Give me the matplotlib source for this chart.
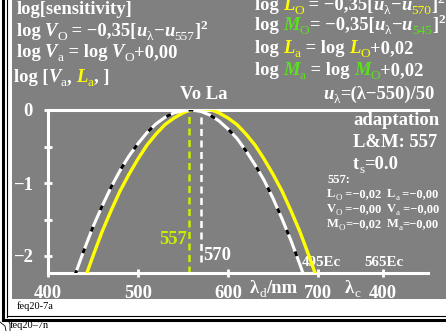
import matplotlib
matplotlib.use("Agg")
import matplotlib.pyplot as plt

# --- data ---
lam_v = [430, 440, 450, 460, 470, 480, 490, 500, 510, 520, 530, 540, 550, 557,
         560, 570, 580, 590, 600, 610, 620, 630, 640, 650, 660, 670, 680, 684]
log_va = [-2.26, -1.92, -1.60, -1.32, -1.06, -0.83, -0.63, -0.46, -0.31, -0.19, -0.10, -0.04, -0.01, 0.0,
          0.0, -0.02, -0.07, -0.15, -0.26, -0.39, -0.56, -0.75, -0.96, -1.21, -1.49, -1.79, -2.12, -2.26]
lam_l = [443, 450, 460, 470, 480, 490, 500, 510, 520, 530, 540, 550, 560, 570,
         580, 590, 600, 610, 620, 630, 640, 650, 660, 670, 680, 690, 697]
log_la = [-2.24, -2.00, -1.67, -1.38, -1.11, -0.88, -0.67, -0.48, -0.33, -0.20, -0.11, -0.04, 0.01, 0.02,
          0.01, -0.04, -0.11, -0.20, -0.33, -0.48, -0.67, -0.88, -1.11, -1.38, -1.67, -2.00, -2.24]
adapt_lam = 557
peak_l = 570
xticks = [400, 500, 600, 700, 772]
xticklabels = ["400", "500", "600", "700", "400"]
yticks = [0, -0.5, -1, -1.5, -2]
yticklabels = ["0", "", "\u22121", "", "\u22122"]

GRAY = "#808080"
YEL = "#ffff00"
GRN = "#5ce01e"
YG = "#c8f000"
W = "white"
SERIF = "Liberation Serif"

fig = plt.figure(figsize=(4.46, 3.31), dpi=100)
fig.patch.set_facecolor("white")

# background / decoration layer in pixel coordinates
bg = fig.add_axes([0, 0, 1, 1], zorder=0)
bg.set_xlim(0, 446)
bg.set_ylim(331, 0)
bg.axis("off")
bg.add_patch(plt.Rectangle((12, 0), 434, 299, color=GRAY, lw=0))
bg.plot([3, 3], [0, 319], color="black", lw=2.2)
bg.plot([7, 7], [0, 317], color="black", lw=0.8)
bg.plot([3, 446], [319.5, 319.5], color="black", lw=2.2)
bg.plot([7, 446], [316, 316], color="black", lw=0.8)
bg.plot([0, 5, 6], [322, 326, 331], color="black", lw=0.6)
bg.plot([8, 10, 10], [320, 324, 331], color="black", lw=0.6)

renderer = fig.canvas.get_renderer()


def row(x, y, parts, size=13.4):
    for txt, col, st in parts:
        fs, dy, weight, style = size, 0, "bold", "normal"
        if "i" in st:
            style = "italic"
        if "s" in st:
            fs, dy, weight = size * 0.72, size * 0.32, "normal"
        if "p" in st:
            fs, dy = size * 0.72, -size * 0.55
        t = bg.text(x, y + dy, txt, color=col, fontsize=fs, fontweight=weight,
                    fontstyle=style, family=SERIF, va="baseline", ha="left")
        x += t.get_window_extent(renderer).width


M = "\u2212"
row(17, 14, [("log[sensitivity]", W, "")])
row(17, 36, [("log ", W, ""), ("V", W, "i"), ("O", W, "s"), (" = " + M + "0,35[", W, ""),
             ("u", W, "i"), ("\u03bb", W, "s"), (M, W, ""), ("u", W, "i"), ("557", W, "s"),
             ("]", W, ""), ("2", W, "p")])
row(17, 57, [("log ", W, ""), ("V", W, "i"), ("a", W, "s"), (" = log ", W, ""), ("V", W, "i"),
             ("O", W, "s"), ("+0,00", W, "")])
row(14, 82, [("log [", W, ""), ("V", W, "i"), ("a", W, "s"), (", ", W, ""), ("L", YEL, "i"),
             ("a", YEL, "s"), (", ]", W, "")])
row(180, 99, [("Vo La", W, "")])

row(255, 10, [("log ", W, ""), ("L", YEL, "i"), ("O", YEL, "s"), (" = " + M + "0,35[", W, ""),
              ("u", W, "i"), ("\u03bb", W, "s"), (M, W, ""), ("u", W, "i"), ("570", YEL, "s"),
              ("]", W, ""), ("2", W, "p")])
row(255, 30, [("log ", W, ""), ("M", GRN, "i"), ("O", GRN, "s"), ("= " + M + "0,35[", W, ""),
              ("u", W, "i"), ("\u03bb", W, "s"), (M, W, ""), ("u", W, "i"), ("545", GRN, "s"),
              ("]", W, ""), ("2", W, "p")])
row(255, 53, [("log ", W, ""), ("L", YEL, "i"), ("a", YEL, "s"), (" = log ", W, ""),
              ("L", YEL, "i"), ("O", YEL, "s"), ("+0,02", W, "")])
row(255, 75, [("log ", W, ""), ("M", GRN, "i"), ("a", GRN, "s"), (" = log ", W, ""),
              ("M", GRN, "i"), ("O", GRN, "s"), ("+0,02", W, "")])
row(323, 99, [("u", W, "i"), ("\u03bb", W, "s"), ("=(\u03bb" + M + "550)/50", W, "")])

row(353, 125, [("adaptation", W, "")])
row(353, 147, [("L&M: 557", W, "")])
row(353, 169, [("t", W, ""), ("s", W, "s"), ("=0.0", W, "")])
row(327, 183, [("557:", W, "")], size=9)
row(327, 197, [("L", W, ""), ("O", W, "s"), (" =" + M + "0,02", W, "")], size=9)
row(387, 197, [("L", W, ""), ("a", W, "s"), (" =" + M + "0,00", W, "")], size=9)
row(327, 212, [("V", W, ""), ("O", W, "s"), (" =" + M + "0,00", W, "")], size=9)
row(387, 212, [("V", W, ""), ("a", W, "s"), (" =" + M + "0,00", W, "")], size=9)
row(327, 227, [("M", W, ""), ("O", W, "s"), ("=" + M + "0,02", W, "")], size=9)
row(387, 227, [("M", W, ""), ("a", W, "s"), ("=" + M + "0,00", W, "")], size=9)

row(302, 266, [("495Ec", W, "")], size=10.8)
row(364, 266, [("565Ec", W, "")], size=10.8)
row(250, 293, [("\u03bb", W, ""), ("d", W, "s"), ("/nm", W, "")], size=13.4)
row(345, 293, [("\u03bb", W, ""), ("c", W, "s")], size=13.4)

bg.text(17, 309, "feq20-7a", fontsize=7.5, family=SERIF, color="black", va="baseline")
bg.text(10, 328, "feq20\u20137n", fontsize=7.5, family=SERIF, color="black", va="baseline")

# main plot
ax = fig.add_axes([48 / 446, 58 / 331, 380 / 446, 163 / 331], zorder=2)
ax.patch.set_alpha(0)
ax.set_xlim(400, 400 + 380 / 0.9)
ax.set_ylim(-163 / 73, 0)
for s in ["left", "bottom", "top"]:
    ax.spines[s].set_color(W)
    ax.spines[s].set_linewidth(2.2)
ax.spines["right"].set_visible(False)

ax.plot(lam_l, log_la, color=YEL, lw=2.4, zorder=3)
ax.plot(lam_v, log_va, color=W, lw=2.2, zorder=4)
ax.plot(lam_v, log_va, color="black", lw=2.2, dashes=(1.6, 6.0), zorder=5)
ax.axvline(adapt_lam, color=YG, lw=1.8, dashes=(2.8, 1.8), zorder=2)
ax.vlines(peak_l, -2.08, 0, color=W, lw=1.8, linestyles=[(0, (2.8, 1.8))], zorder=2)
ax.text(adapt_lam - 2, -1.78, "557", color=YG, fontsize=13.4, fontweight="bold",
        family=SERIF, ha="right", va="center")
ax.text(peak_l + 2, -2.0, "570", color=W, fontsize=13.4, fontweight="bold",
        family=SERIF, ha="left", va="center")

ax.set_xticks(xticks)
ax.set_xticklabels(xticklabels)
ax.set_yticks(yticks)
ax.set_yticklabels(yticklabels)
ax.tick_params(direction="inout", length=6, width=2, colors=W, labelsize=13.4, pad=6)
ax.tick_params(axis="y", pad=8)
for lab in ax.get_xticklabels() + ax.get_yticklabels():
    lab.set_fontweight("bold")
    lab.set_family(SERIF)
    lab.set_color(W)

fig.savefig("out.png", dpi=100, facecolor="white")
